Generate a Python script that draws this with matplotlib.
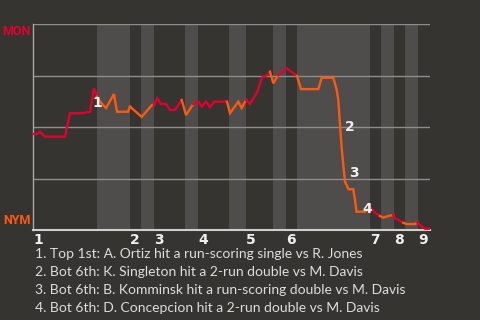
import matplotlib
matplotlib.use('Agg')
import matplotlib.pyplot as plt
import numpy as np
from matplotlib.transforms import blended_transform_factory

# game progress (0..397) and Montreal win probability after each play
progress = [0, 4, 7, 12, 32, 37, 50, 57, 61, 64, 67, 73, 81, 84, 95, 97,
            108.7, 119, 121, 124.3, 127.7, 133, 137, 142, 148.7, 153, 160.3,
            165.3, 168.7, 173, 177, 181.3, 194, 197, 205.3, 208.7, 213, 217,
            224.3, 229, 234, 237, 240.3, 245.3, 253.7, 264, 268, 285.3, 288.7,
            300.3, 303.7, 305.3, 307, 308.7, 310.3, 312, 314, 315.5, 320.3,
            322, 323.5, 332, 335.3, 337, 342, 347, 350.3, 355.3, 360.3, 362,
            367, 370.3, 373.7, 382, 384.3, 388.7, 392, 397]
win_prob = [.466, .466, .477, .453, .453, .567, .567, .574, .688, .647, .623,
            .592, .660, .574, .574, .599, .549, .607, .607, .639, .612, .612,
            .583, .583, .631, .558, .612, .623, .599, .623, .596, .623, .623,
            .567, .623, .592, .631, .612, .671, .740, .752, .768, .712, .752,
            .785, .748, .684, .684, .739, .739, .680, .631, .510, .397, .316,
            .234, .214, .198, .198, .146, .089, .089, .100, .110, .084, .068,
            .060, .068, .073, .057, .045, .035, .029, .029, .037, .016, .006,
            .006]

inning_start = [0, 97, 121, 165, 213, 253, 337, 361, 385]
bottom_start = [64, 108, 152, 196, 240, 264, 348, 372]
game_end = 397
inning_labels = ['1', '2', '3', '4', '5', '6', '7', '8', '9']

key_plays = [9, 52, 54, 60]
key_offsets = [(0, -4.5), (3.6, -1.4), (4.3, -5.8), (4, 2.2)]
notes = ["1. Top 1st: A. Ortiz hit a run-scoring single vs R. Jones",
         "2. Bot 6th: K. Singleton hit a 2-run double vs M. Davis",
         "3. Bot 6th: B. Komminsk hit a run-scoring double vs M. Davis",
         "4. Bot 6th: D. Concepcion hit a 2-run double vs M. Davis"]

bg = '#363431'
band = '#4e4d4b'
red = '#e4002b'
orange = '#ff5910'

fig = plt.figure(figsize=(4.8, 3.2), dpi=100, facecolor=bg)
ax = fig.add_axes([33/480, 90/320, 397/480, 206/320], facecolor=bg)

# bottom halves shaded
ends = inning_start[1:] + [game_end]
for b, e in zip(bottom_start, ends):
    ax.axvspan(b, e, color=band, lw=0, zorder=0)

for y in [0.25, 0.5, 0.75, 1.0]:
    ax.axhline(y, color='#8e8d8b', lw=1, zorder=1)

# one piece of line per half inning: red when MON bats, orange when NYM bats
x = np.array(progress, dtype=float)
p = np.array(win_prob)
halves = []
for i, s in enumerate(inning_start):
    if i < len(bottom_start):
        halves.append((s, bottom_start[i], red))
        halves.append((bottom_start[i], ends[i], orange))
    else:
        halves.append((s, ends[i], red))
for s, e, c in halves:
    idx = np.where((x > s) & (x <= e))[0]
    if len(idx) == 0:
        continue
    if idx[0] > 0:
        idx = np.r_[idx[0] - 1, idx]
    ax.plot(x[idx], p[idx], color=c, lw=1.7, zorder=3, solid_joinstyle='miter')

for n, (i, off) in enumerate(zip(key_plays, key_offsets)):
    ax.annotate(str(n + 1), (x[i], p[i]), xytext=off, textcoords='offset points',
                ha='left' if n else 'center', va='center', color='#f0f0f0',
                fontsize=10, fontweight='bold', zorder=4)

ax.set_xlim(0, game_end)
ax.set_ylim(0, 1)
ax.set_yticks([])
ax.set_xticks(inning_start)
ax.set_xticklabels(inning_labels, ha='left', color='#f0f0f0',
                   fontsize=10, fontweight='bold')
ax.tick_params(axis='x', length=0, pad=2)
for s in ['top', 'right']:
    ax.spines[s].set_visible(False)
ax.spines['left'].set_color('#a9a8a6')
ax.spines['left'].set_linewidth(1)
ax.spines['bottom'].set_color('#cfcecc')
ax.spines['bottom'].set_linewidth(1.5)

tr = blended_transform_factory(ax.transAxes, ax.transData)
ax.text(-0.006, 0.966, 'MON', transform=tr, ha='right', va='center',
        color=red, fontsize=9, fontweight='bold', family='Roboto')
ax.text(-0.006, 0.044, 'NYM', transform=tr, ha='right', va='center',
        color=orange, fontsize=9, fontweight='bold', family='Roboto')

for k, t in enumerate(notes):
    fig.text(35/480, 1 - (254 + 18*k)/320, t, ha='left', va='center',
             color='#dddddd', fontsize=10.0, family='Lato')

fig.savefig('out.png', dpi=100, facecolor=bg)
